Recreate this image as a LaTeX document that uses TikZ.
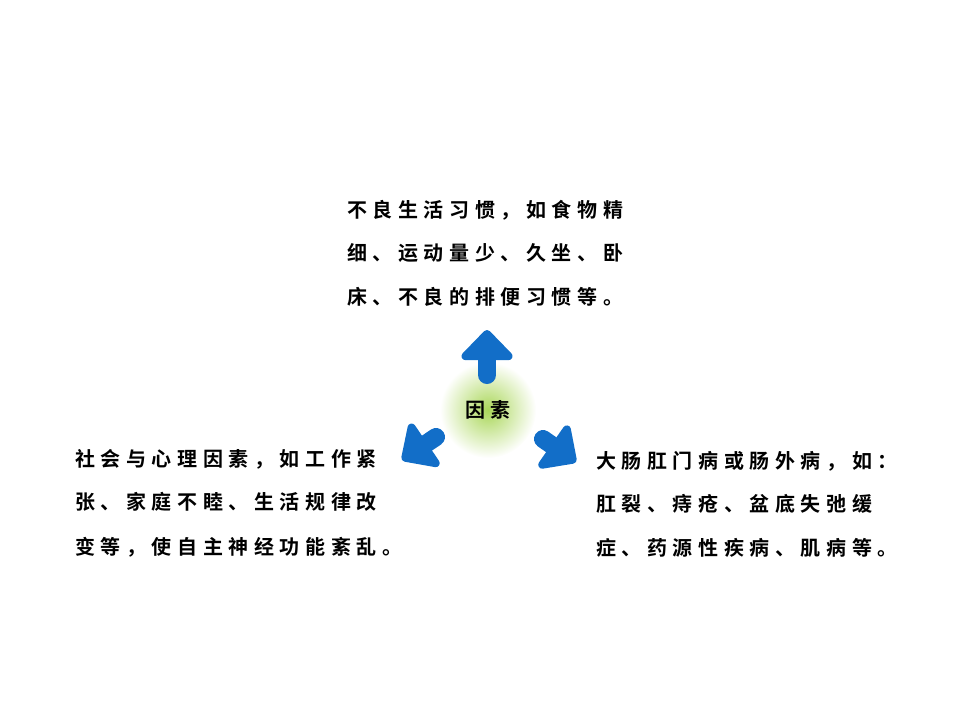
\documentclass[tikz,border=0pt]{standalone}
\usepackage{fontspec}
\newfontfamily\cjk[LetterSpace=28,BoldFont={Noto Sans CJK SC Bold}]{Noto Sans CJK SC}
\usetikzlibrary{arrows.meta}
\tikzset{
  causetext/.style={anchor=west,font=\cjk\bfseries\fontsize{20}{20}\selectfont,inner sep=0pt},
  bigarrow/.style={draw=blue!60!cyan!80!black,color={rgb,255:red,18;green,110;blue,200},line width=18pt,line cap=round,
    -{Triangle[width=60pt,length=32pt,round,line width=8pt]}}
}
\begin{document}
\begin{tikzpicture}[x=1pt,y=-1pt]
  \useasboundingbox (0,0) rectangle (960,720);
  % glow behind the centre word
  \shade[inner color={rgb,255:red,170;green,215;blue,90},outer color=white] (488,410) circle (48);
  \node[font=\cjk\bfseries\fontsize{20}{20}\selectfont,inner sep=0pt] (center) at (488,410) {因素};

  % up arrow
  \coordinate (upTail) at (487,375);
  \coordinate (upTip) at (487,330);
  \draw[bigarrow] (upTail) -- (upTip);
  % left arrow
  \coordinate (leftTail) at (436,437);
  \coordinate (leftTip) at (402,460);
  \draw[bigarrow] (leftTail) -- (leftTip);
  % right arrow
  \coordinate (rightTail) at (543,439);
  \coordinate (rightTip) at (576,462);
  \draw[bigarrow] (rightTail) -- (rightTip);

  % top text
  \node[causetext] (top1) at (347,210) {不良生活习惯，如食物精};
  \node[causetext] (top2) at (347,253) {细、运动量少、久坐、卧};
  \node[causetext] (top3) at (347,297) {床、不良的排便习惯等。};

  % left text
  \node[causetext] (left1) at (75,459) {社会与心理因素，如工作紧};
  \node[causetext] (left2) at (75,502) {张、家庭不睦、生活规律改};
  \node[causetext] (left3) at (75,547) {变等，使自主神经功能紊乱。};

  % right text
  \node[causetext] (right1) at (596,461) {大肠肛门病或肠外病，如：};
  \node[causetext] (right2) at (596,504) {肛裂、痔疮、盆底失弛缓};
  \node[causetext] (right3) at (596,548) {症、药源性疾病、肌病等。};
\end{tikzpicture}
\end{document}
